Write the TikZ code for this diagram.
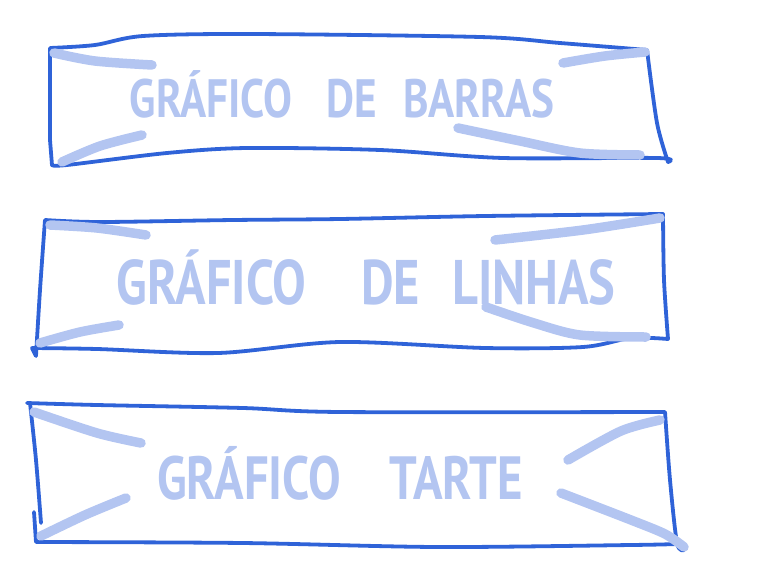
\documentclass[tikz,border=0pt]{standalone}
\usepackage{fontspec}
\setmainfont{PT Sans}
\newfontfamily\mao[FakeStretch=0.8]{PT Sans}
\definecolor{tinta}{HTML}{2F63D8}
\definecolor{marcador}{HTML}{B3C5F1}
\tikzset{
  contorno/.style={tinta, line width=3.8pt, line cap=round, line join=round},
  traco/.style={marcador, line width=9.5pt, line cap=round},
  rotulo/.style={marcador, anchor=base, inner sep=0pt},
}
\begin{document}
\begin{tikzpicture}[x=1pt, y=-1pt]
  \useasboundingbox (0,0) rectangle (759,562);
  % caixa 1
  \draw[contorno] plot[smooth] coordinates {(50,48) (95,45) (143,36) (250,34) (480,37) (560,43) (647,50)}
    -- plot[smooth] coordinates {(647,50) (657,123) (668,162)}
    -- plot[smooth] coordinates {(668,162) (657,158) (503,158) (380,150) (247,148) (167,153) (67,165) (52,165)}
    -- (50,140) -- cycle;
  \draw[traco] plot[smooth] coordinates {(54,53) (95,61) (152,65)};
  \draw[traco] plot[smooth] coordinates {(62,162) (100,146) (142,135)};
  \draw[traco] plot[smooth] coordinates {(563,63) (605,56) (645,52)};
  \draw[traco] plot[smooth] coordinates {(458,128) (520,141) (580,153) (640,155)};
  \node[rotulo, font=\mao\fontsize{54}{54}\selectfont\bfseries] (barras) at (342,117)
    {GRÁFICO\hspace{34pt}DE\hspace{26pt}BARRAS};
  % caixa 2
  \draw[contorno] plot[smooth] coordinates {(45,220) (100,222) (233,220) (340,219) (485,216) (663,214)}
    -- plot[smooth] coordinates {(663,214) (664,280) (668,339)}
    -- plot[smooth] coordinates {(668,339) (631,338) (583,347) (485,348) (340,342) (218,353) (97,349) (32,348)}
    -- plot[smooth] coordinates {(36,356) (40,290) (45,220)};
  \draw[traco] plot[smooth] coordinates {(50,225) (97,228) (146,235)};
  \draw[traco] plot[smooth] coordinates {(40,343) (80,332) (119,325)};
  \draw[traco] plot[smooth] coordinates {(495,240) (583,230) (660,218)};
  \draw[traco] plot[smooth] coordinates {(486,307) (534,323) (580,335) (646,337)};
  \node[rotulo, font=\mao\fontsize{63}{63}\selectfont\bfseries] (linhas) at (366,304)
    {GRÁFICO\hspace{55pt}DE\hspace{32pt}LINHAS};
  % caixa 3
  \draw[contorno] plot[smooth] coordinates {(27,403) (97,405) (243,408) (340,412) (665,412)}
    -- plot[smooth] coordinates {(665,412) (670,480) (677,543) (684,550)};
  \draw[contorno] plot[smooth] coordinates {(677,544) (631,545) (437,547) (243,543) (36,542)}
    -- plot[smooth] coordinates {(36,542) (34,512)};
  \draw[contorno] plot[smooth] coordinates {(30,403) (36,460) (41,523)};
  \draw[traco] plot[smooth] coordinates {(34,412) (97,433) (141,443)};
  \draw[traco] plot[smooth] coordinates {(41,536) (85,515) (126,498)};
  \draw[traco] plot[smooth] coordinates {(568,460) (621,431) (660,420)};
  \draw[traco] plot[smooth] coordinates {(561,493) (631,520) (665,534) (684,547)};
  \node[rotulo, font=\mao\fontsize{61}{61}\selectfont\bfseries] (tarte) at (340,499)
    {GRÁFICO\hspace{48pt}TARTE};
\end{tikzpicture}
\end{document}
